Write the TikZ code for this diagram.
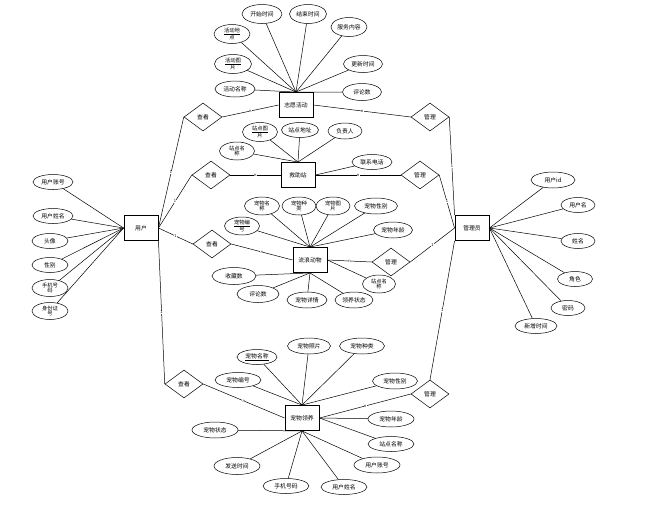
\documentclass[tikz,border=0pt]{standalone}
\usepackage{fontspec}
\setmainfont{Noto Sans CJK SC}
\usetikzlibrary{shapes.geometric}
\tikzset{
  attr/.style={draw, ellipse, inner sep=0pt, minimum width=40pt, minimum height=16pt,
    font=\fontsize{5.8}{6.6}\selectfont, align=center, line width=0.5pt},
  twol/.style={font=\fontsize{5.3}{5.5}\selectfont},
  ent/.style={draw, rectangle, minimum width=34pt, minimum height=25pt, inner sep=0pt,
    font=\fontsize{5.8}{7}\selectfont, line width=0.9pt},
  rel/.style={draw, diamond, minimum width=38pt, minimum height=28pt, inner sep=0pt,
    font=\fontsize{5.8}{7}\selectfont, line width=0.5pt},
  lnk/.style={line width=0.5pt},
  card/.style={font=\fontsize{4}{4}\selectfont, inner sep=0.3pt, fill=white}
}
\begin{document}
\begin{tikzpicture}[x=1pt,y=-1pt]
\useasboundingbox (0,0) rectangle (662,507);

% entities
\node[ent] (e1) at (296,105) {志愿活动};
\node[ent] (e2) at (298,175) {救助站};
\node[ent] (e3) at (310,260) {流浪动物};
\node[ent] (e4) at (302,418) {宠物领养};
\node[ent] (u)  at (141,228) {用户};
\node[ent] (m)  at (472,228) {管理员};

% relationships
\node[rel] (d1) at (203,117) {查看};
\node[rel] (d2) at (211,175) {查看};
\node[rel] (d3) at (212,244) {查看};
\node[rel] (d4) at (184,384) {查看};
\node[rel] (g1) at (430,117) {管理};
\node[rel] (g2) at (420,175) {管理};
\node[rel] (g3) at (391,262) {管理};
\node[rel] (g4) at (430,394) {管理};

% attributes of 志愿活动
\node[attr, minimum width=40pt, minimum height=19pt] (a11) at (262,14) {开始时间};
\node[attr, minimum width=37pt, minimum height=19pt] (a12) at (308,14) {结束时间};
\node[attr, minimum width=36pt, minimum height=19pt] (a13) at (349,27) {服务内容};
\node[attr, minimum width=39pt, minimum height=17pt] (a14) at (363,64) {更新时间};
\node[attr, minimum width=39pt, minimum height=17pt] (a15) at (362,92) {评论数};
\node[attr, minimum width=40pt, minimum height=16pt] (a16) at (235,89) {活动名称};
\node[attr, twol, minimum width=36pt, minimum height=19pt] (a17) at (232,34) {\underline{活动地}\\点};
\node[attr, twol, minimum width=37pt, minimum height=19pt] (a18) at (233,64) {\underline{活动图}\\片};
\foreach \a in {a11,a12,a13,a14,a15,a16,a17,a18} \draw[lnk] (\a) -- (e1.north);

% attributes of 救助站
\node[attr, twol, minimum width=35pt, minimum height=19pt] (a21) at (260,132) {\underline{站点图}\\片};
\node[attr, minimum width=37pt, minimum height=15pt] (a22) at (300,130) {站点地址};
\node[attr, minimum width=34pt, minimum height=16pt] (a23) at (345,131) {负责人};
\node[attr, twol, minimum width=35pt, minimum height=18pt] (a24) at (237,151) {站点名\\称};
\node[attr, minimum width=40pt, minimum height=15pt] (a25) at (372,162) {联系电话};
\foreach \a in {a21,a22,a23,a24} \draw[lnk] (\a) -- (e2.north);
\draw[lnk] (a25) -- (e2.east);

% attributes of 流浪动物
\node[attr, twol, minimum width=35pt, minimum height=18pt] (a31) at (262,206) {宠物名\\称};
\node[attr, twol, minimum width=34pt, minimum height=18pt] (a32) at (299,206) {宠物种\\类};
\node[attr, twol, minimum width=34pt, minimum height=18pt] (a33) at (333,206) {宠物图\\片};
\node[attr, minimum width=43pt, minimum height=16pt] (a34) at (376,206) {宠物性别};
\node[attr, twol, minimum width=35pt, minimum height=18pt] (a35) at (242,226) {\underline{宠物编}\\号};
\node[attr, minimum width=39pt, minimum height=16pt] (a36) at (393,230) {宠物年龄};
\node[attr, minimum width=44pt, minimum height=17pt] (a37) at (234,276) {收藏数};
\node[attr, minimum width=42pt, minimum height=17pt] (a38) at (258,294) {评论数};
\node[attr, minimum width=40pt, minimum height=16pt] (a39) at (307,300) {宠物详情};
\node[attr, minimum width=38pt, minimum height=16pt] (a3a) at (354,300) {领养状态};
\node[attr, twol, minimum width=33pt, minimum height=18pt] (a3b) at (379,284) {站点名\\称};
\foreach \a in {a31,a32,a33,a34,a35,a36} \draw[lnk] (\a) -- (e3.north);
\foreach \a in {a37,a38,a39,a3a} \draw[lnk] (\a) -- (e3.south);
\draw[lnk] (a3b) -- (e3.east);

% attributes of 宠物领养
\node[attr, minimum width=40pt, minimum height=15pt] (a41) at (257,357) {\underline{宠物名称}};
\node[attr, minimum width=43pt, minimum height=16pt] (a42) at (309,346) {宠物照片};
\node[attr, minimum width=45pt, minimum height=16pt] (a43) at (362,346) {宠物种类};
\node[attr, minimum width=46pt, minimum height=15pt] (a44) at (238,380) {宠物编号};
\node[attr, minimum width=45pt, minimum height=16pt] (a45) at (395,381) {宠物性别};
\node[attr, minimum width=46pt, minimum height=16pt] (a46) at (391,419) {宠物年龄};
\node[attr, minimum width=46pt, minimum height=15pt] (a47) at (391,444) {站点名称};
\node[attr, minimum width=46pt, minimum height=16pt] (a48) at (377,465) {用户账号};
\node[attr, minimum width=46pt, minimum height=15pt] (a49) at (344,487) {用户姓名};
\node[attr, minimum width=46pt, minimum height=15pt] (a4a) at (286,486) {手机号码};
\node[attr, minimum width=46pt, minimum height=17pt] (a4b) at (237,466) {发送时间};
\node[attr, minimum width=46pt, minimum height=16pt] (a4c) at (215,430) {宠物状态};
\foreach \a in {a41,a42,a43,a44,a45} \draw[lnk] (\a) -- (e4.north);
\draw[lnk] (a46) -- (e4.east);
\draw[lnk] (a47) -- (e4.east);
\foreach \a in {a48,a49,a4a,a4b,a4c} \draw[lnk] (\a) -- (e4.south);

% attributes of 用户
\node[attr, minimum width=40pt, minimum height=15pt] (b1) at (53,182) {用户账号};
\node[attr, minimum width=40pt, minimum height=15pt] (b2) at (53,216) {用户姓名};
\node[attr, minimum width=36pt, minimum height=15pt] (b3) at (50,241) {头像};
\node[attr, minimum width=36pt, minimum height=15pt] (b4) at (50,265) {性别};
\node[attr, twol, minimum width=36pt, minimum height=17pt] (b5) at (50,288) {手机号\\码};
\node[attr, twol, minimum width=36pt, minimum height=17pt] (b6) at (50,311) {身份证\\号};
\foreach \a in {b1,b2,b3,b4,b5,b6} \draw[lnk] (\a) -- (u.west);

% attributes of 管理员
\node[attr, minimum width=44pt, minimum height=16pt] (c1) at (553,180) {用户id};
\node[attr, minimum width=34pt, minimum height=15pt] (c2) at (578,205) {用户名};
\node[attr, minimum width=34pt, minimum height=15pt] (c3) at (578,241) {姓名};
\node[attr, minimum width=35pt, minimum height=15pt] (c4) at (575,279) {角色};
\node[attr, minimum width=34pt, minimum height=15pt] (c5) at (568,308) {密码};
\node[attr, minimum width=42pt, minimum height=15pt] (c6) at (536,326) {新增时间};
\foreach \a in {c1,c2,c3,c4,c5,c6} \draw[lnk] (\a) -- (m.east);

% relationship links (user side)
\draw[lnk] (u.east) -- node[card]{1} (d1.west);
\draw[lnk] (u.east) -- node[card]{1} (d2.west);
\draw[lnk] (u.east) -- node[card]{1} (d3.west);
\draw[lnk] (u.south east) -- node[card]{1} (d4.west);
\draw[lnk] (d1.east) -- node[card]{n} (e1.west);
\draw[lnk] (d2.east) -- node[card]{n} (e2.west);
\draw[lnk] (d3.east) -- node[card]{n} (e3.west);
\draw[lnk] (d4.east) -- node[card]{n} (e4.west);

% relationship links (admin side)
\draw[lnk] (e1.east) -- node[card]{n} (g1.west);
\draw[lnk] (e2.east) -- node[card]{n} (g2.west);
\draw[lnk] (e3.east) -- node[card]{n} (g3.west);
\draw[lnk] (e4.east) -- node[card]{n} (g4.west);
\draw[lnk] (g1.east) -- node[card]{1} (m.north west);
\draw[lnk] (g2.east) -- node[card]{1} (m.west);
\draw[lnk] (g3.east) -- node[card]{1} (m.west);
\draw[lnk] (g4.north) -- node[card]{1} (m.south west);
\end{tikzpicture}
\end{document}
